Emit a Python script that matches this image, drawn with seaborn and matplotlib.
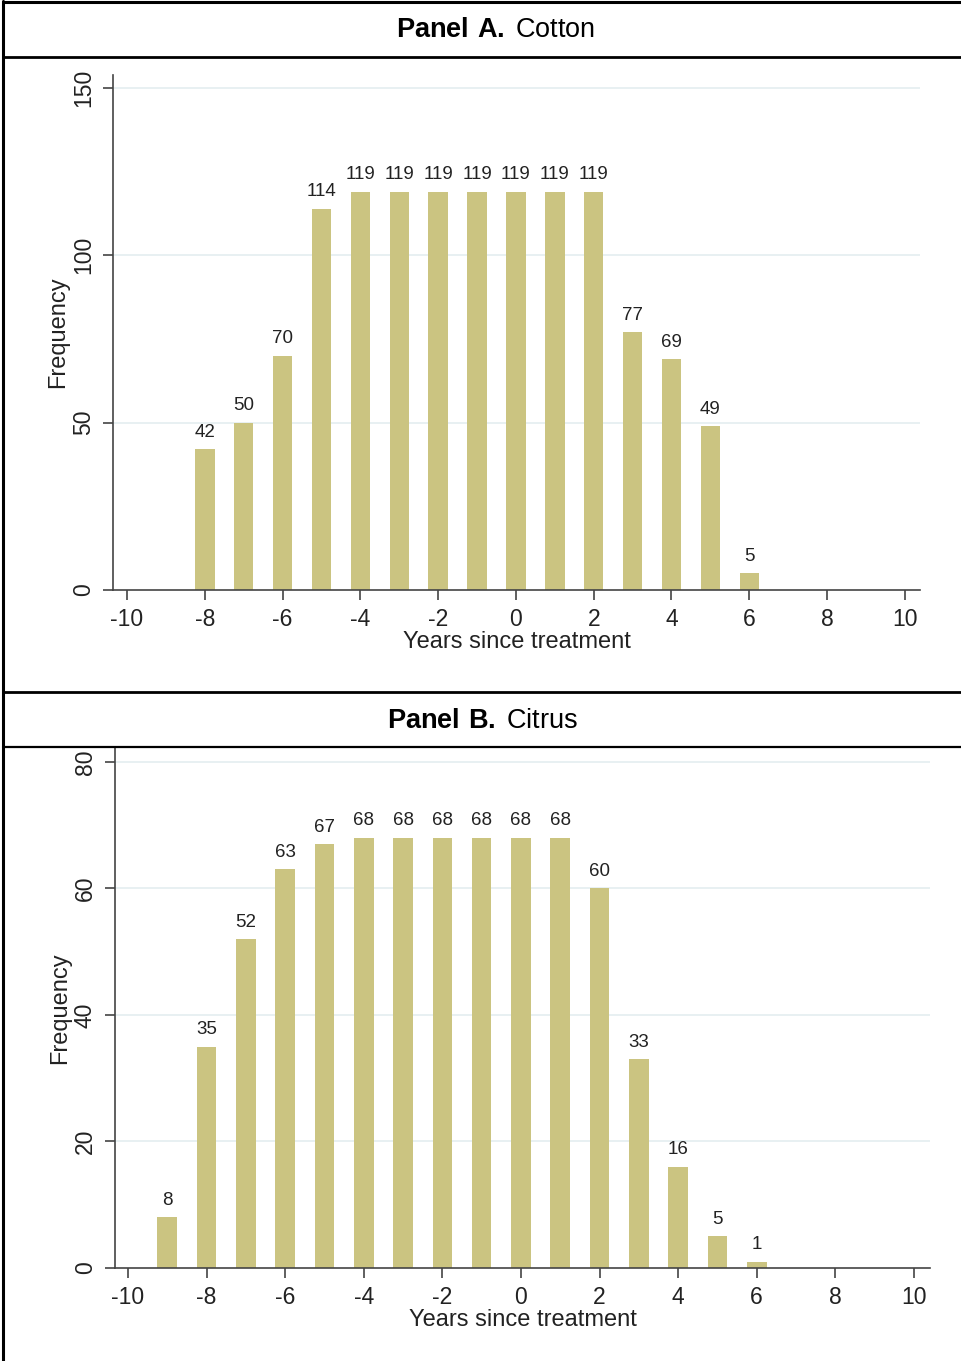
import matplotlib
matplotlib.use("Agg")
import matplotlib.pyplot as plt
import seaborn as sns
import pandas as pd
from matplotlib.lines import Line2D

# Data
cotton_years = [-8, -7, -6, -5, -4, -3, -2, -1, 0, 1, 2, 3, 4, 5, 6]
cotton_freq = [42, 50, 70, 114, 119, 119, 119, 119, 119, 119, 119, 77, 69, 49, 5]
citrus_years = [-9, -8, -7, -6, -5, -4, -3, -2, -1, 0, 1, 2, 3, 4, 5, 6]
citrus_freq = [8, 35, 52, 63, 67, 68, 68, 68, 68, 68, 68, 60, 33, 16, 5, 1]
x_ticks = [-10, -8, -6, -4, -2, 0, 2, 4, 6, 8, 10]
cotton_yticks = [0, 50, 100, 150]
citrus_yticks = [0, 20, 40, 60, 80]

sns.set_theme(style="white")
plt.rcParams['font.family'] = ['Liberation Sans', 'DejaVu Sans']
plt.rcParams['mathtext.fontset'] = 'custom'
plt.rcParams['mathtext.rm'] = 'Liberation Sans'
plt.rcParams['mathtext.bf'] = 'Liberation Sans:bold'

BAR = "#cbc481"
GRID = "#e4eef0"
AXC = "#444444"
TXT = "#222222"
W, H = 961, 1361
fig = plt.figure(figsize=(W / 100, H / 100), dpi=100)

def fx(px):
    return px / W

def fy(py):
    return 1 - py / H

def panel(rect, years, freq, yticks, xlim, ylim):
    ax = fig.add_axes(rect)
    df = pd.DataFrame({"year": years, "freq": freq})
    sns.barplot(data=df, x="year", y="freq", native_scale=True, width=0.5,
                color=BAR, saturation=1, edgecolor="none", ax=ax)
    ax.set_xlim(*xlim)
    ax.set_ylim(*ylim)
    ax.set_xticks(x_ticks)
    ax.set_xticklabels([str(t) for t in x_ticks], fontsize=16.5)
    ax.set_yticks(yticks)
    ax.set_yticklabels([str(t) for t in yticks], fontsize=16.5, rotation=90, va="center")
    for t in yticks[1:]:
        ax.axhline(t, color=GRID, lw=1.2, zorder=0)
    for s in ["top", "right"]:
        ax.spines[s].set_visible(False)
    for s in ["left", "bottom"]:
        ax.spines[s].set_color(AXC)
        ax.spines[s].set_linewidth(1.2)
    ax.tick_params(axis="both", which="both", direction="out", length=7, width=1.2,
                   color=AXC, labelcolor=TXT, pad=6, bottom=True, left=True)
    ax.set_xlabel("Years since treatment", fontsize=17, color=TXT, labelpad=0)
    ax.set_ylabel("Frequency", fontsize=17, color=TXT, labelpad=2)
    for c in ax.containers:
        ax.bar_label(c, labels=[str(v) for v in freq], padding=6, fontsize=13.5, color=TXT)
    return ax

# Panel A
axA = panel([fx(113), fy(590), fx(920) - fx(113), fy(75) - fy(590)],
            cotton_years, cotton_freq, cotton_yticks, (-10.36, 10.39), (0, 153.9))
# Panel B
axB = panel([fx(115), fy(1268), fx(930) - fx(115), fy(748) - fy(1268)],
            citrus_years, citrus_freq, citrus_yticks, (-10.33, 10.41), (0, 82.2))

# Table-like frame
for y, lw in [(2, 2.2), (57, 2.0), (692, 2.0), (747, 1.6)]:
    fig.add_artist(Line2D([fx(3), 1.0], [fy(y), fy(y)], color="black", lw=lw))
fig.add_artist(Line2D([fx(3), fx(3)], [fy(1), 0.0], color="black", lw=2.2))

fig.text(fx(496), fy(30), r"$\bf{Panel\ A.}$" + "\u2009Cotton", ha="center", va="center",
         fontsize=19.5, color="black")
fig.text(fx(482), fy(721), r"$\bf{Panel\ B.}$" + "\u2009Citrus", ha="center", va="center",
         fontsize=19.5, color="black")

fig.savefig("out.png", dpi=100)
